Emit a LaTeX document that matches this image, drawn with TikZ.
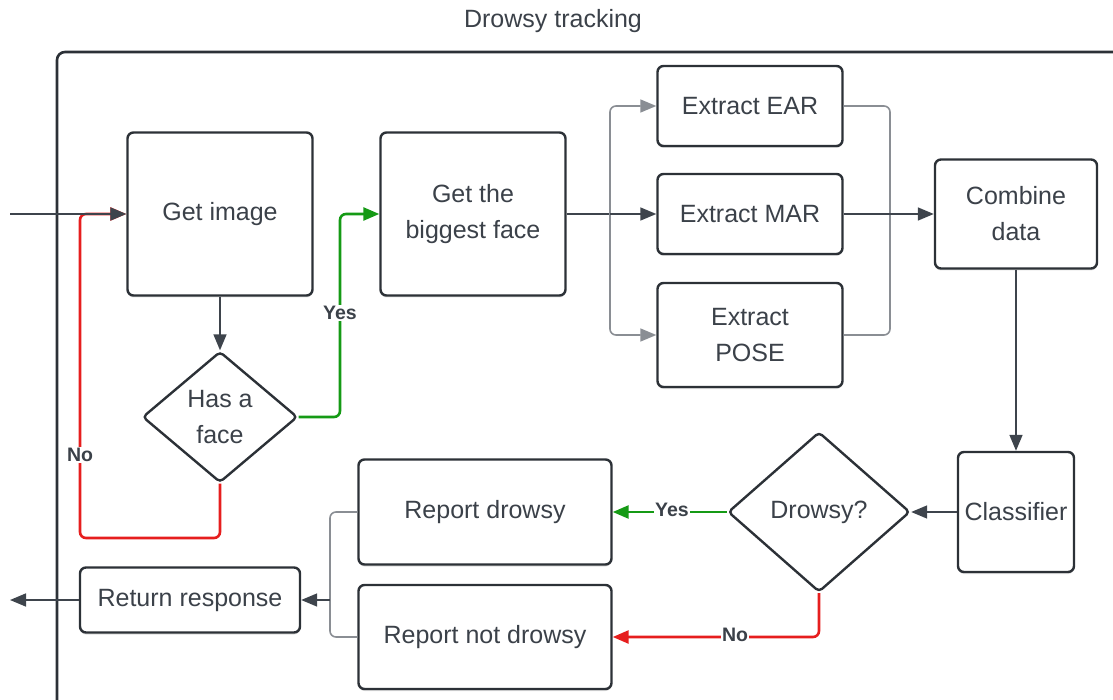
\documentclass[tikz,border=0pt]{standalone}
\usepackage{fontspec}
\setmainfont{Liberation Sans}
\usetikzlibrary{arrows.meta,shapes.geometric,shadows}

\definecolor{ink}{HTML}{3B4149}
\definecolor{edge}{HTML}{2C3137}
\definecolor{wire}{HTML}{3E444C}
\definecolor{split}{HTML}{8A8E94}
\definecolor{yesgreen}{HTML}{159A15}
\definecolor{nored}{HTML}{E61E1E}

\tikzset{
  box/.style={draw=edge, line width=2.4pt, rounded corners=6pt, fill=white,
    text=ink, align=center, inner sep=2pt,
    drop shadow={shadow xshift=0pt, shadow yshift=-2pt, opacity=0.25}},
  decision/.style={diamond, draw=edge, line width=2.4pt, rounded corners=4pt,
    fill=white, text=ink, align=center, inner sep=0pt},
  flow/.style={draw=wire, line width=1.6pt, rounded corners=6pt},
  branch/.style={draw=split, line width=1.6pt, rounded corners=6pt},
  yesline/.style={draw=yesgreen, line width=2.6pt, rounded corners=6pt},
  noline/.style={draw=nored, line width=2.6pt, rounded corners=6pt},
  lbl/.style={fill=white, text=ink, font=\fontsize{19.5}{22}\selectfont\bfseries, inner sep=1pt}
}

\begin{document}
\begin{tikzpicture}[x=1pt, y=-1pt, >={Triangle[length=16pt, width=13pt]},
  font=\fontsize{25}{36}\selectfont]
\useasboundingbox (0,0) rectangle (1113,700);

% frame
\draw[draw=edge, line width=2.6pt, rounded corners=8pt] (57,52) rectangle (1140,730);
\node[text=ink] (title) at (553,21) {Drowsy tracking};

% boxes
\node[box, minimum width=185pt, minimum height=163pt] (img) at (220,214) {Get image};
\node[decision, minimum width=155pt, minimum height=131pt] (face) at (220,417) {Has a\\face};
\node[box, minimum width=185pt, minimum height=163pt] (big) at (473,214) {Get the\\biggest face};

\node[box, minimum width=185pt, minimum height=80pt] (ear) at (750,106) {Extract EAR};
\node[box, minimum width=185pt, minimum height=80pt] (mar) at (750,214) {Extract MAR};
\node[box, minimum width=185pt, minimum height=104pt] (pose) at (750,335) {Extract\\POSE};

\node[box, minimum width=162pt, minimum height=109pt] (comb) at (1016,214) {Combine\\data};
\node[box, minimum width=116pt, minimum height=120pt] (clf) at (1016,512) {Classifier};
\node[decision, minimum width=182pt, minimum height=160pt] (drowsy) at (819,512) {Drowsy?};

\node[box, minimum width=253pt, minimum height=105pt] (repd) at (485,512) {Report drowsy};
\node[box, minimum width=253pt, minimum height=104pt] (repnd) at (485,637) {Report not drowsy};
\node[box, minimum width=220pt, minimum height=65pt] (ret) at (190,600) {Return response};

\coordinate (inp) at (10,214);
\coordinate (outp) at (10,600);
\coordinate (noleft) at (80,538);
\coordinate (yesmid) at (340,300);
\coordinate (fork) at (610,214);
\coordinate (join) at (890,214);
\coordinate (retjoin) at (330,600);

% loop back when no face
\draw[noline, ->] (face.south) |- (noleft) |- (img.west);
\draw[flow, ->] (inp) -- (img.west);
\draw[flow, ->] (img.south) -- (face.north);
\draw[yesline, ->] (face.east) -| (yesmid) |- (big.west);

% features
\draw[flow] (big.east) -- (fork);
\draw[branch, ->] (fork) |- (ear.west);
\draw[branch, ->] (fork) |- (pose.west);
\draw[flow, ->] (fork) -- (mar.west);
\draw[branch] (ear.east) -| (join);
\draw[branch] (pose.east) -| (join);
\draw[flow] (mar.east) -- (join);
\draw[flow, ->] (join) -- (comb.west);

\draw[flow, ->] (comb.south) -- (clf.north);
\draw[flow, ->] (clf.west) -- (drowsy.east);
\draw[yesline, ->] (drowsy.west) -- (repd.east);
\draw[noline, ->] (drowsy.south) |- (repnd.east);

% response
\draw[branch] (repd.west) -| (retjoin);
\draw[branch] (repnd.west) -| (retjoin);
\draw[flow, ->] (retjoin) -- (ret.east);
\draw[flow, ->] (ret.west) -- (outp);

\node[lbl] (yes1) at (340,313) {Yes};
\node[lbl] (no1) at (80,455) {No};
\node[lbl] (yes2) at (672,510) {Yes};
\node[lbl] (no2) at (735,635) {No};
\end{tikzpicture}
\end{document}
